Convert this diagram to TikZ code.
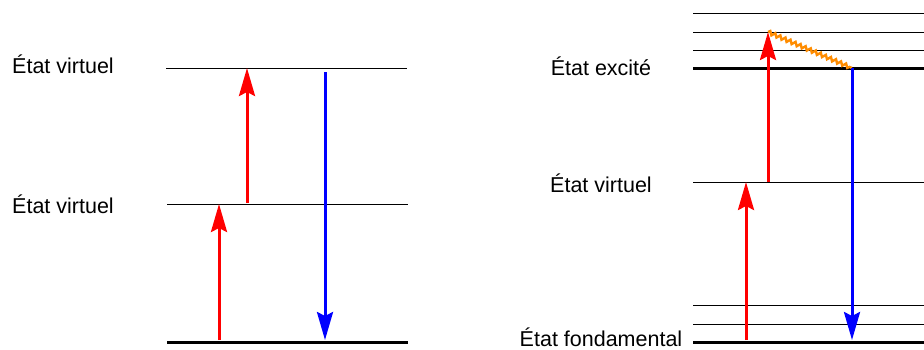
\documentclass[tikz,border=0pt]{standalone}
\usepackage{fontspec}
\setmainfont{Liberation Sans}
\usepackage{xcolor}
\usetikzlibrary{arrows.meta,positioning,calc,decorations.pathmorphing}
\definecolor{wavecol}{RGB}{255,140,0}

\begin{document}
\begin{tikzpicture}[x=1pt,y=-1pt,
  lv/.style={line width=1pt},
  glv/.style={line width=3pt},
  lb/.style={font=\fontsize{21.5}{26}\selectfont,inner sep=0pt,anchor=base},
  up/.style={line width=3pt,red,-{Stealth[length=28pt,width=16pt,inset=4pt]}},
  dn/.style={line width=3pt,blue,-{Stealth[length=28pt,width=16pt,inset=4pt]}},
  wv/.style={line width=2.4pt,wavecol,decorate,
    decoration={snake,amplitude=1.8pt,segment length=5.5pt}}
]
\useasboundingbox (0,0) rectangle (924,349);
% ---- left: two virtual states ----
\coordinate (v2w) at (166,68);  \coordinate (v2e) at (407,68);
\coordinate (v1w) at (167,204); \coordinate (v1e) at (408,204);
\coordinate (g0w) at (167,342); \coordinate (g0e) at (408,342);
\draw[lv](v2w)--(v2e); \draw[lv](v1w)--(v1e); \draw[glv](g0w)--(g0e);
\node[lb] (tv2) at (63,73)  {État virtuel};
\node[lb] (tv1) at (63,213) {État virtuel};
\coordinate (p1) at (219,340);
\coordinate (p2) at (247,203);
\coordinate (s1) at (325,72);
\draw[up](p1)--(p1 |- v1w);
\draw[up](p2)--(p2 |- v2w);
\draw[dn](s1)--(s1 |- 0,340);
% ---- right: excited state with vibrational levels ----
\coordinate (e3w) at (693,13); \coordinate (e3e) at (924,13);
\coordinate (e2w) at (693,32); \coordinate (e2e) at (924,32);
\coordinate (e1w) at (693,50); \coordinate (e1e) at (924,50);
\coordinate (e0w) at (693,68); \coordinate (e0e) at (924,68);
\coordinate (vvw) at (693,182); \coordinate (vve) at (924,182);
\coordinate (f2w) at (693,305); \coordinate (f2e) at (924,305);
\coordinate (f1w) at (693,324); \coordinate (f1e) at (924,324);
\coordinate (f0w) at (693,342); \coordinate (f0e) at (924,342);
\foreach \l in {e3,e2,e1,vv,f2,f1} \draw[lv](\l w)--(\l e);
\draw[glv](e0w)--(e0e); \draw[glv](f0w)--(f0e);
\node[lb] (tex) at (601,75)  {État excité};
\node[lb] (tvv) at (601,192) {État virtuel};
\node[lb] (tfd) at (601,346) {État fondamental};
\coordinate (q1) at (746,340);
\coordinate (q2) at (768,182);
\coordinate (q3) at (852,68);
\draw[up](q1)--(q1 |- vvw);
\draw[up](q2)--(q2 |- e2w);
\draw[wv](q2 |- e2w)--(q3);
\draw[dn](q3)--(q3 |- 0,340);
\end{tikzpicture}
\end{document}
